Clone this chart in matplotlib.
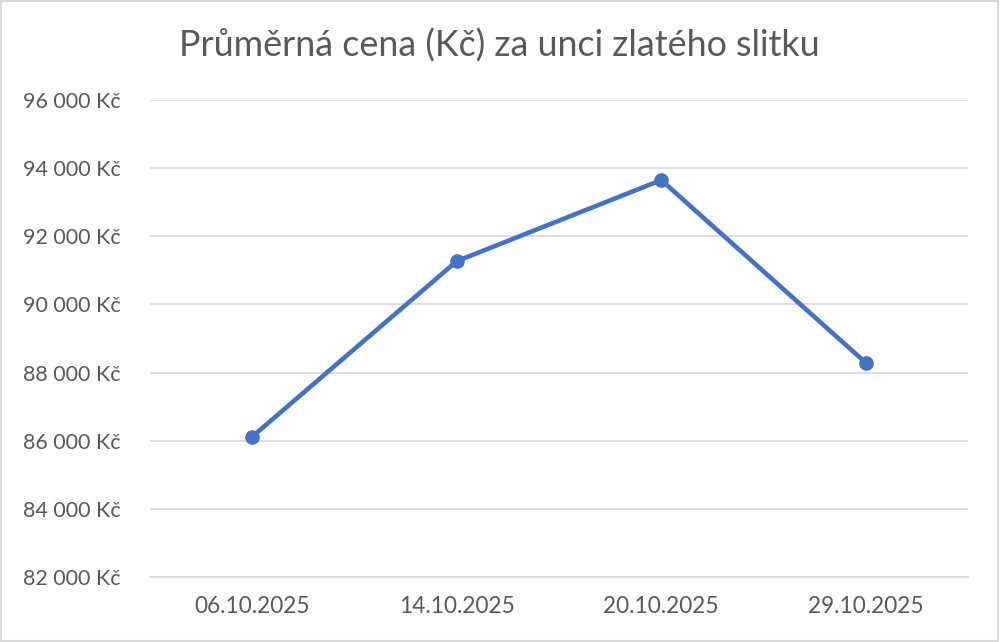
import matplotlib
matplotlib.use("Agg")
import matplotlib.pyplot as plt
from matplotlib.ticker import FuncFormatter
from matplotlib.patches import Rectangle

dates = ["06.10.2025", "14.10.2025", "20.10.2025", "29.10.2025"]
prices = [86120, 91270, 93650, 88290]
title = "Průměrná cena (Kč) za unci zlatého slitku"

plt.rcParams['font.family'] = ['Lato', 'DejaVu Sans']

fig = plt.figure(figsize=(10, 6.42), dpi=100)
ax = fig.add_axes([0.15, 0.1012, 0.818, 0.7430])

x = list(range(len(dates)))
ax.plot(x, prices, color="#4472C4", linewidth=3.3, marker="o", markersize=9.5,
        solid_capstyle="round", zorder=3)

ax.set_xlim(-0.5, len(dates) - 0.5)
ax.set_ylim(82000, 96000)
ax.set_yticks(range(82000, 96001, 2000))
ax.yaxis.set_major_formatter(FuncFormatter(lambda v, p: f"{int(v):,}".replace(",", " ") + " Kč"))
ax.set_xticks(x)
ax.set_xticklabels(dates)

ax.grid(axis="y", color="#D9D9D9", linewidth=1.2)
ax.set_axisbelow(True)
for s in ["top", "right", "left"]:
    ax.spines[s].set_visible(False)
ax.spines["bottom"].set_color("#D9D9D9")
ax.spines["bottom"].set_linewidth(1.2)
ax.tick_params(axis="both", length=0, colors="#595959")
ax.tick_params(axis="y", pad=21, labelsize=15.5)
ax.tick_params(axis="x", pad=14, labelsize=16.3)

fig.text(0.499, 0.929, title, ha="center", va="center", fontsize=25.8, color="#595959")

fig.patches.append(Rectangle((0.001, 0.001), 0.997, 0.997, transform=fig.transFigure,
                             fill=False, edgecolor="#D9D9D9", linewidth=1.5))

fig.savefig("out.png", dpi=100, facecolor="white")
